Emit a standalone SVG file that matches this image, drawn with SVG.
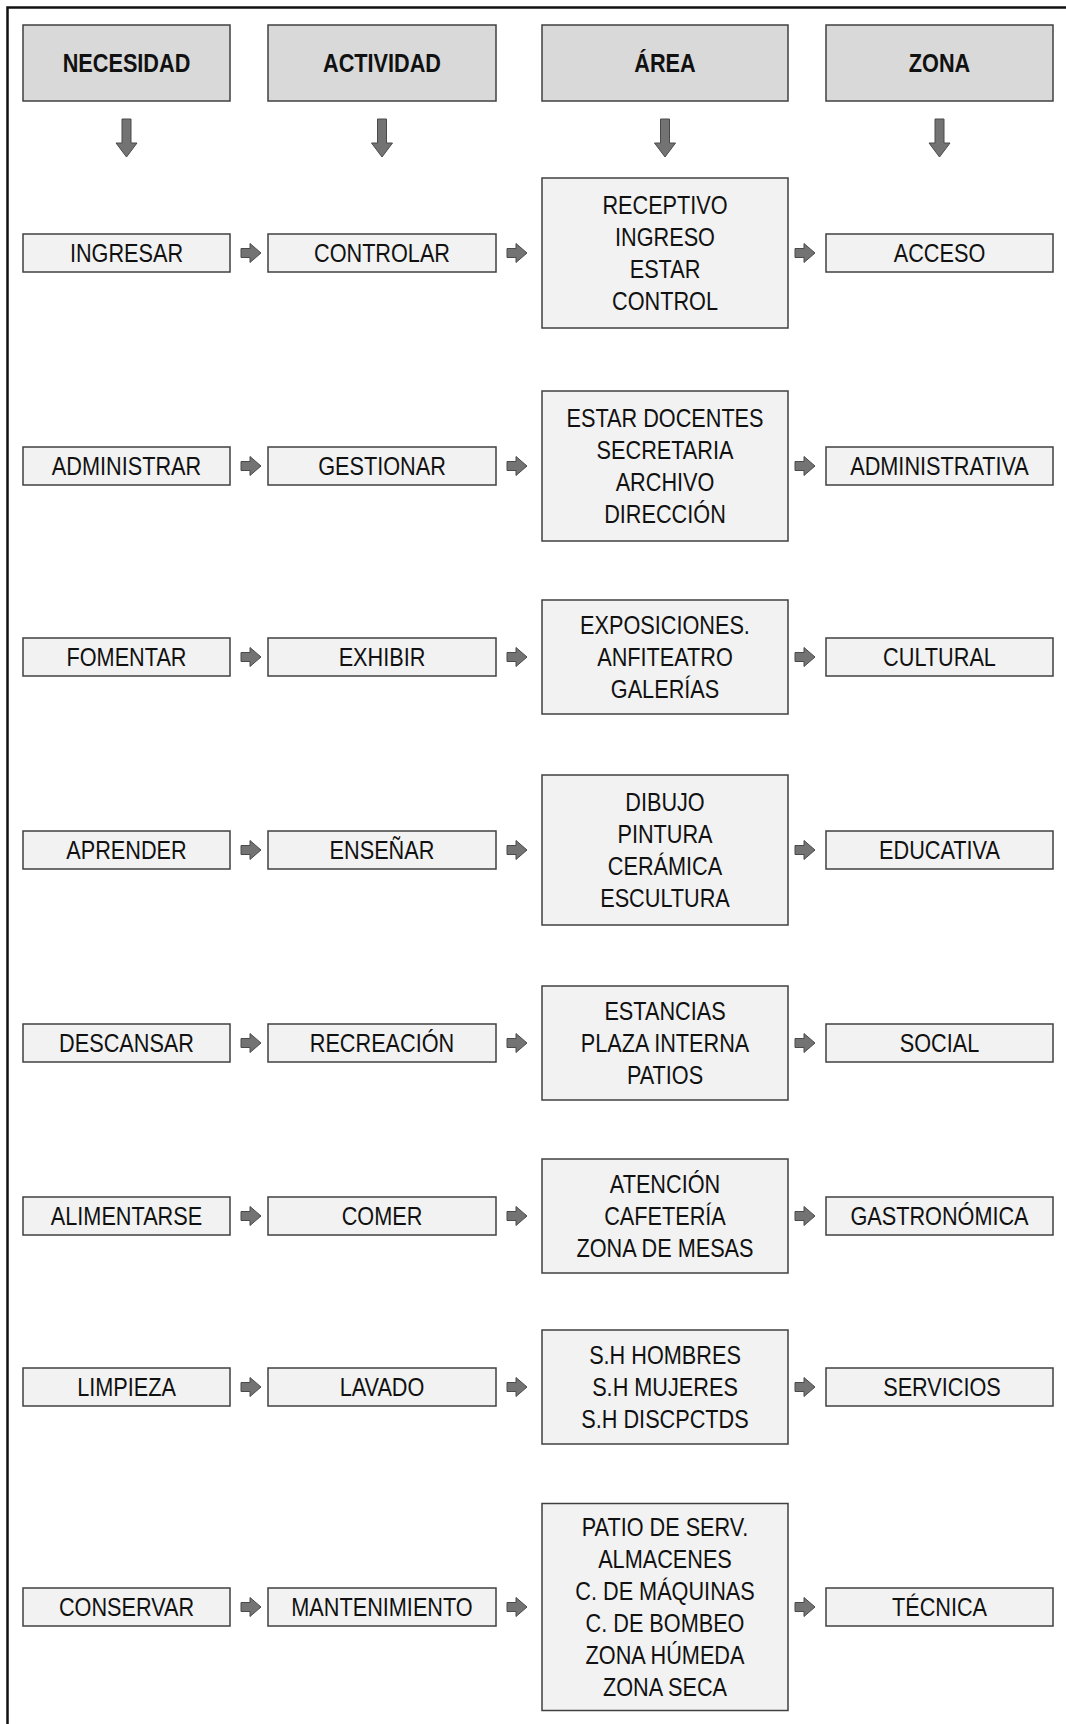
<svg xmlns="http://www.w3.org/2000/svg" xmlns:xlink="http://www.w3.org/1999/xlink" width="1066" height="1724" viewBox="0 0 1066 1724">
<style>
text{font-family:"Liberation Sans Narrow","Liberation Sans",Arial,sans-serif;font-size:25.5px;fill:#111;text-anchor:middle}
.hd rect{fill:#d9d9d9;stroke:#404040;stroke-width:1.5}
.hd text{font-weight:bold}
.bx rect{fill:#f2f2f2;stroke:#404040;stroke-width:1.5}
.arr{fill:#737373;stroke:#4a4a4a;stroke-width:1}
</style>
<defs>
<path id="ra" d="M0,-4.5 H9 V-9.5 L20,0 L9,9.5 V4.5 H0 Z"/>
<path id="da" d="M-4.5,0 H4.5 V24 H10.5 L0,38 L-10.5,24 H-4.5 Z"/>
</defs>
<rect width="1066" height="1724" fill="#fff"/>
<path d="M7.5,1724 V7.5 H1066" fill="none" stroke="#111" stroke-width="2.5"/>

<g id="h-necesidad" class="hd"><rect x="23" y="25" width="207" height="76"/><text transform="translate(126.5 0) scale(0.85 1)" y="72">NECESIDAD</text></g>
<g id="h-actividad" class="hd"><rect x="268" y="25" width="228" height="76"/><text transform="translate(382 0) scale(0.85 1)" y="72">ACTIVIDAD</text></g>
<g id="h-area" class="hd"><rect x="542" y="25" width="246" height="76"/><text transform="translate(665 0) scale(0.85 1)" y="72">ÁREA</text></g>
<g id="h-zona" class="hd"><rect x="826" y="25" width="227" height="76"/><text transform="translate(939.5 0) scale(0.85 1)" y="72">ZONA</text></g>

<!-- Row 1 -->
<g id="n1" class="bx"><rect x="23" y="234" width="207" height="38"/><text transform="translate(126.5 0) scale(0.85 1)" y="262">INGRESAR</text></g>
<g id="a1" class="bx"><rect x="268" y="234" width="228" height="38"/><text transform="translate(382 0) scale(0.85 1)" y="262">CONTROLAR</text></g>
<g id="r1" class="bx"><rect x="542" y="178" width="246" height="150"/><g transform="translate(665 0) scale(0.85 1)"><text y="214">RECEPTIVO</text><text y="246">INGRESO</text><text y="278">ESTAR</text><text y="310">CONTROL</text></g></g>
<g id="z1" class="bx"><rect x="826" y="234" width="227" height="38"/><text transform="translate(939.5 0) scale(0.85 1)" y="262">ACCESO</text></g>

<!-- Row 2 -->
<g id="n2" class="bx"><rect x="23" y="447" width="207" height="38"/><text transform="translate(126.5 0) scale(0.85 1)" y="475">ADMINISTRAR</text></g>
<g id="a2" class="bx"><rect x="268" y="447" width="228" height="38"/><text transform="translate(382 0) scale(0.85 1)" y="475">GESTIONAR</text></g>
<g id="r2" class="bx"><rect x="542" y="391" width="246" height="150"/><g transform="translate(665 0) scale(0.85 1)"><text y="427">ESTAR DOCENTES</text><text y="459">SECRETARIA</text><text y="491">ARCHIVO</text><text y="523">DIRECCIÓN</text></g></g>
<g id="z2" class="bx"><rect x="826" y="447" width="227" height="38"/><text transform="translate(939.5 0) scale(0.85 1)" y="475">ADMINISTRATIVA</text></g>

<!-- Row 3 -->
<g id="n3" class="bx"><rect x="23" y="638" width="207" height="38"/><text transform="translate(126.5 0) scale(0.85 1)" y="666">FOMENTAR</text></g>
<g id="a3" class="bx"><rect x="268" y="638" width="228" height="38"/><text transform="translate(382 0) scale(0.85 1)" y="666">EXHIBIR</text></g>
<g id="r3" class="bx"><rect x="542" y="600" width="246" height="114"/><g transform="translate(665 0) scale(0.85 1)"><text y="634">EXPOSICIONES.</text><text y="666">ANFITEATRO</text><text y="698">GALERÍAS</text></g></g>
<g id="z3" class="bx"><rect x="826" y="638" width="227" height="38"/><text transform="translate(939.5 0) scale(0.85 1)" y="666">CULTURAL</text></g>

<!-- Row 4 -->
<g id="n4" class="bx"><rect x="23" y="831" width="207" height="38"/><text transform="translate(126.5 0) scale(0.85 1)" y="859">APRENDER</text></g>
<g id="a4" class="bx"><rect x="268" y="831" width="228" height="38"/><text transform="translate(382 0) scale(0.85 1)" y="859">ENSEÑAR</text></g>
<g id="r4" class="bx"><rect x="542" y="775" width="246" height="150"/><g transform="translate(665 0) scale(0.85 1)"><text y="811">DIBUJO</text><text y="843">PINTURA</text><text y="875">CERÁMICA</text><text y="907">ESCULTURA</text></g></g>
<g id="z4" class="bx"><rect x="826" y="831" width="227" height="38"/><text transform="translate(939.5 0) scale(0.85 1)" y="859">EDUCATIVA</text></g>

<!-- Row 5 -->
<g id="n5" class="bx"><rect x="23" y="1024" width="207" height="38"/><text transform="translate(126.5 0) scale(0.85 1)" y="1052">DESCANSAR</text></g>
<g id="a5" class="bx"><rect x="268" y="1024" width="228" height="38"/><text transform="translate(382 0) scale(0.85 1)" y="1052">RECREACIÓN</text></g>
<g id="r5" class="bx"><rect x="542" y="986" width="246" height="114"/><g transform="translate(665 0) scale(0.85 1)"><text y="1020">ESTANCIAS</text><text y="1052">PLAZA INTERNA</text><text y="1084">PATIOS</text></g></g>
<g id="z5" class="bx"><rect x="826" y="1024" width="227" height="38"/><text transform="translate(939.5 0) scale(0.85 1)" y="1052">SOCIAL</text></g>

<!-- Row 6 -->
<g id="n6" class="bx"><rect x="23" y="1197" width="207" height="38"/><text transform="translate(126.5 0) scale(0.85 1)" y="1225">ALIMENTARSE</text></g>
<g id="a6" class="bx"><rect x="268" y="1197" width="228" height="38"/><text transform="translate(382 0) scale(0.85 1)" y="1225">COMER</text></g>
<g id="r6" class="bx"><rect x="542" y="1159" width="246" height="114"/><g transform="translate(665 0) scale(0.85 1)"><text y="1193">ATENCIÓN</text><text y="1225">CAFETERÍA</text><text y="1257">ZONA DE MESAS</text></g></g>
<g id="z6" class="bx"><rect x="826" y="1197" width="227" height="38"/><text transform="translate(939.5 0) scale(0.85 1)" y="1225">GASTRONÓMICA</text></g>

<!-- Row 7 -->
<g id="n7" class="bx"><rect x="23" y="1368" width="207" height="38"/><text transform="translate(126.5 0) scale(0.85 1)" y="1396">LIMPIEZA</text></g>
<g id="a7" class="bx"><rect x="268" y="1368" width="228" height="38"/><text transform="translate(382 0) scale(0.85 1)" y="1396">LAVADO</text></g>
<g id="r7" class="bx"><rect x="542" y="1330" width="246" height="114"/><g transform="translate(665 0) scale(0.85 1)"><text y="1364">S.H HOMBRES</text><text y="1396">S.H MUJERES</text><text y="1428">S.H DISCPCTDS</text></g></g>
<g id="z7" class="bx"><rect x="826" y="1368" width="227" height="38"/><text transform="translate(942 0) scale(0.85 1)" y="1396">SERVICIOS</text></g>

<!-- Row 8 -->
<g id="n8" class="bx"><rect x="23" y="1588" width="207" height="38"/><text transform="translate(126.5 0) scale(0.85 1)" y="1616">CONSERVAR</text></g>
<g id="a8" class="bx"><rect x="268" y="1588" width="228" height="38"/><text transform="translate(382 0) scale(0.85 1)" y="1616">MANTENIMIENTO</text></g>
<g id="r8" class="bx"><rect x="542" y="1503.5" width="246" height="207"/><g transform="translate(665 0) scale(0.85 1)"><text y="1536">PATIO DE SERV.</text><text y="1568">ALMACENES</text><text y="1600">C. DE MÁQUINAS</text><text y="1632">C. DE BOMBEO</text><text y="1664">ZONA HÚMEDA</text><text y="1696">ZONA SECA</text></g></g>
<g id="z8" class="bx"><rect x="826" y="1588" width="227" height="38"/><text transform="translate(939.5 0) scale(0.85 1)" y="1616">TÉCNICA</text></g>

<g id="connectors" class="arr">
<use xlink:href="#da" x="126.5" y="119"/>
<use xlink:href="#da" x="382" y="119"/>
<use xlink:href="#da" x="665" y="119"/>
<use xlink:href="#da" x="939.5" y="119"/>

<use xlink:href="#ra" x="241" y="253"/><use xlink:href="#ra" x="507" y="253"/><use xlink:href="#ra" x="795" y="253"/>
<use xlink:href="#ra" x="241" y="466"/><use xlink:href="#ra" x="507" y="466"/><use xlink:href="#ra" x="795" y="466"/>
<use xlink:href="#ra" x="241" y="657"/><use xlink:href="#ra" x="507" y="657"/><use xlink:href="#ra" x="795" y="657"/>
<use xlink:href="#ra" x="241" y="850"/><use xlink:href="#ra" x="507" y="850"/><use xlink:href="#ra" x="795" y="850"/>
<use xlink:href="#ra" x="241" y="1043"/><use xlink:href="#ra" x="507" y="1043"/><use xlink:href="#ra" x="795" y="1043"/>
<use xlink:href="#ra" x="241" y="1216"/><use xlink:href="#ra" x="507" y="1216"/><use xlink:href="#ra" x="795" y="1216"/>
<use xlink:href="#ra" x="241" y="1387"/><use xlink:href="#ra" x="507" y="1387"/><use xlink:href="#ra" x="795" y="1387"/>
<use xlink:href="#ra" x="241" y="1607"/><use xlink:href="#ra" x="507" y="1607"/><use xlink:href="#ra" x="795" y="1607"/>
</g>
</svg>
